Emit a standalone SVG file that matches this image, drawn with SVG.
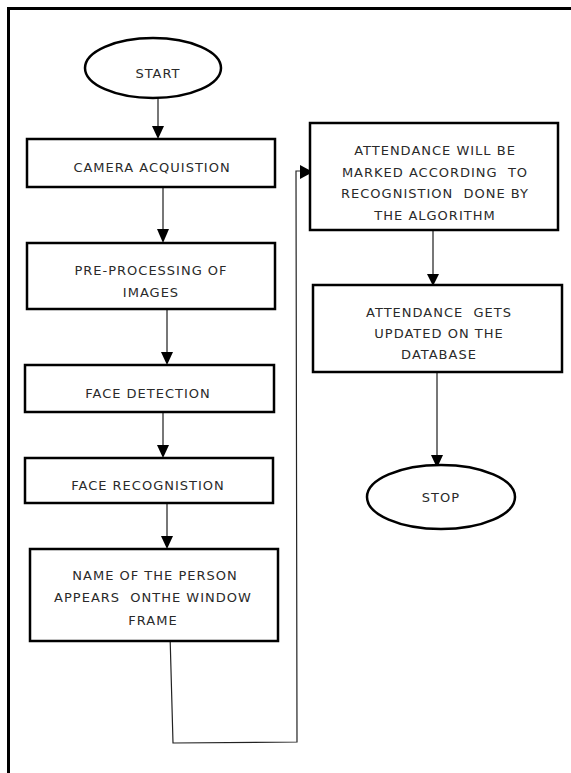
<svg xmlns="http://www.w3.org/2000/svg" width="571" height="773" viewBox="0 0 571 773">
<style>
.box{fill:#fff;stroke:#000;stroke-width:2.5}
.t{font-family:"DejaVu Sans",Verdana,sans-serif;font-size:13px;fill:#2a2a2a;text-anchor:middle;letter-spacing:1px;white-space:pre}
.c{stroke:#777;stroke-width:2;fill:none}
.l{stroke:#222;stroke-width:1.2;fill:none}
.ah{fill:#000}
</style>
<rect width="571" height="773" fill="#fff"/>
<path d="M8.5 773 V8.5 H571" fill="none" stroke="#000" stroke-width="3"/>
<g id="connectors">
<line class="c" x1="158" y1="98" x2="158" y2="128"/><polygon class="ah" points="152,126 164,126 158,139"/>
<line class="c" x1="163" y1="187" x2="163" y2="231"/><polygon class="ah" points="157,229 169,229 163,243"/>
<line class="c" x1="167" y1="309" x2="167" y2="354"/><polygon class="ah" points="161,352 173,352 167,365"/>
<line class="c" x1="163" y1="412" x2="163" y2="447"/><polygon class="ah" points="157,445 169,445 163,458"/>
<line class="c" x1="167" y1="503" x2="167" y2="538"/><polygon class="ah" points="161,536 173,536 167,549"/>
<polyline class="l" points="170,634 173,743 297,742 296,171 302,171"/><polygon class="ah" points="300,165 300,179 313,172"/>
<line class="c" x1="433" y1="230" x2="433" y2="276"/><polygon class="ah" points="427,274 439,274 433,286"/>
<line class="c" x1="437" y1="372" x2="437" y2="457"/><polygon class="ah" points="431,455 443,455 437,468"/>
</g>
<g id="start"><ellipse class="box" cx="153" cy="68" rx="68" ry="30"/><text class="t" x="158" y="78">START</text></g>
<g id="camera"><rect class="box" x="27" y="139" width="248" height="48"/><text class="t" x="152" y="172">CAMERA ACQUISTION</text></g>
<g id="preprocess"><rect class="box" x="27" y="243" width="248" height="66"/><text class="t" x="151" y="275">PRE-PROCESSING OF</text><text class="t" x="151" y="297">IMAGES</text></g>
<g id="detect"><rect class="box" x="25" y="365" width="249" height="47"/><text class="t" x="148" y="398">FACE DETECTION</text></g>
<g id="recog"><rect class="box" x="25" y="458" width="248" height="45"/><text class="t" x="148" y="490">FACE RECOGNISTION</text></g>
<g id="name"><rect class="box" x="30" y="549" width="248" height="92"/><text class="t" x="155" y="580">NAME OF THE PERSON</text><text class="t" x="153" y="602">APPEARS  ONTHE WINDOW</text><text class="t" x="153" y="625">FRAME</text></g>
<g id="mark"><rect class="box" x="310" y="123" width="248" height="107"/><text class="t" x="435" y="155">ATTENDANCE WILL BE</text><text class="t" x="435" y="177">MARKED ACCORDING  TO</text><text class="t" x="435" y="198">RECOGNISTION  DONE BY</text><text class="t" x="435" y="220">THE ALGORITHM</text></g>
<g id="update"><rect class="box" x="313" y="285" width="249" height="87"/><text class="t" x="439" y="317">ATTENDANCE  GETS</text><text class="t" x="439" y="338">UPDATED ON THE</text><text class="t" x="439" y="359">DATABASE</text></g>
<g id="stop"><ellipse class="box" cx="441" cy="497" rx="74" ry="32"/><text class="t" x="441" y="502">STOP</text></g>
</svg>
